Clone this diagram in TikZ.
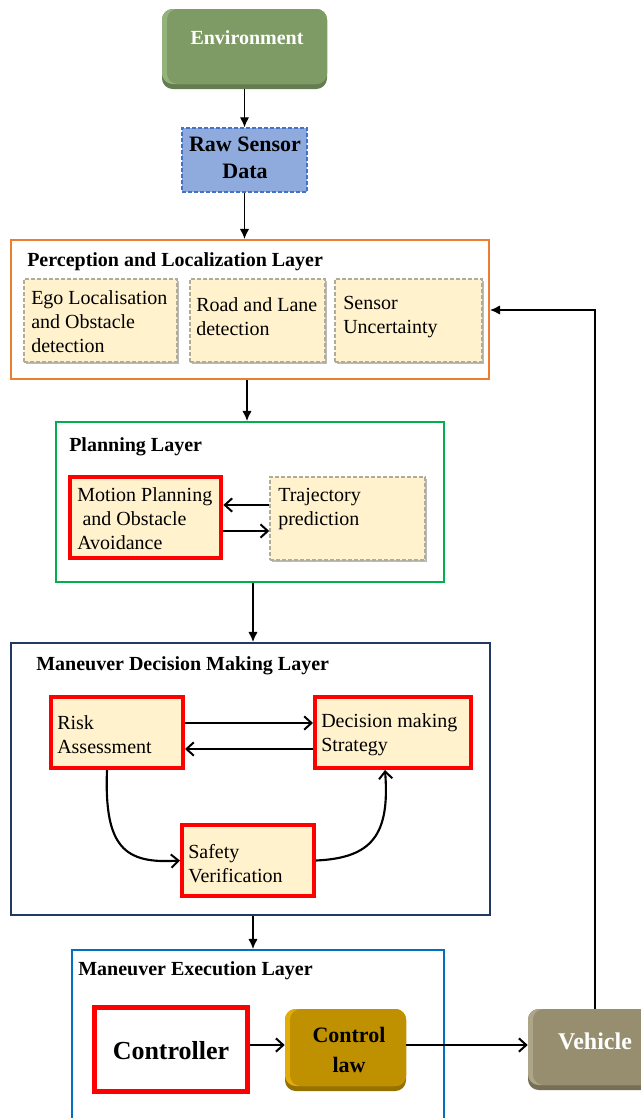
\documentclass[tikz,border=0pt]{standalone}
\usepackage{fontspec}
\setmainfont{Liberation Serif}
\usetikzlibrary{arrows.meta,fit,shadows,calc}
\definecolor{envM}{RGB}{126,155,101}
\definecolor{envL}{RGB}{150,178,124}
\definecolor{envD}{RGB}{100,125,80}
\definecolor{vehM}{RGB}{150,142,110}
\definecolor{vehL}{RGB}{172,165,135}
\definecolor{vehD}{RGB}{118,111,85}
\definecolor{clM}{RGB}{191,144,0}
\definecolor{clL}{RGB}{226,172,10}
\definecolor{clD}{RGB}{150,113,0}
\definecolor{rawF}{RGB}{143,170,220}
\definecolor{rawB}{RGB}{68,114,196}
\definecolor{cream}{RGB}{255,242,204}
\definecolor{dgray}{RGB}{176,172,152}
\definecolor{orangeL}{RGB}{237,125,49}
\definecolor{greenL}{RGB}{0,176,80}
\definecolor{navyL}{RGB}{32,56,100}
\definecolor{blueL}{RGB}{0,112,192}
\newcommand\fsz{\fontsize{15}{18}\selectfont}
\begin{document}
\begin{tikzpicture}[x=0.75pt,y=-0.75pt,
  layer/.style={draw, line width=1.6pt, inner sep=0pt},
  ybox/.style={fill=cream, draw=dgray, dash pattern=on 3pt off 1.5pt, line width=1.1pt, inner sep=0pt,
    drop shadow={shadow xshift=1.5pt, shadow yshift=-1.5pt, fill=black!45, opacity=.6}},
  rbox/.style={fill=cream, draw=red, line width=3pt, inner sep=0pt,
    drop shadow={shadow xshift=1.5pt, shadow yshift=-1.5pt, fill=black!45, opacity=.5}},
  txt/.style={font=\fsz, align=left, inner sep=0pt, anchor=west},
  ttl/.style={font=\fsz\bfseries, inner sep=0pt, anchor=west},
  arr/.style={-{Latex[length=7.5pt,width=7pt]}, line width=0.9pt},
  barb/.style={-{Straight Barb[length=5.5pt,width=10pt,line width=1.5pt]}, line width=1.6pt}]
\clip (0,0) rectangle (641,1118);
\fill[white] (0,0) rectangle (641,1118);

% Environment (bevel)
\node[fit={(162,9)(327,89)}, inner sep=0pt, rounded corners=8pt, fill=envD] (env) {};
\fill[envL, rounded corners=8pt] (162,9) rectangle (327,84);
\fill[envM, rounded corners=8pt] (167,9) rectangle (327,84);
\node[font=\fsz\bfseries, text=white, inner sep=0pt] (tenv) at (247,38) {Environment};

% Raw sensor data
\node[fit={(182,128)(307,192)}, inner sep=0pt, fill=rawF, draw=rawB, dash pattern=on 3pt off 1.5pt, line width=1.1pt] (raw) {};
\node[font=\fontsize{16.5}{20}\selectfont\bfseries, align=center, inner sep=0pt] (traw) at (245,158) {Raw Sensor\\Data};

% Perception layer
\node[layer, draw=orangeL, fit={(11,240)(489,379)}] (perc) {};
\node[ttl] (tperc) at (27,262) {Perception and Localization Layer};
\node[ybox, fit={(24,279)(177,362)}] (ego) {};
\node[ybox, fit={(190,279)(325,362)}] (road) {};
\node[ybox, fit={(335,279)(482,362)}] (sens) {};
\node[txt] (tego) at (31,322) {Ego Localisation\\and Obstacle\\detection};
\node[txt] (troad) at (196,317) {Road and Lane\\detection};
\node[txt] (tsens) at (343,317) {Sensor\\Uncertainty};

% Planning layer
\node[layer, draw=greenL, fit={(56,422)(444,582)}] (plan) {};
\node[ttl] (tplan) at (69,447) {Planning Layer};
\node[rbox, line width=3.5pt, fit={(70,477)(221,558)}] (mp) {};
\node[ybox, fit={(270,477)(425,560)}] (traj) {};
\node[txt] (tmp) at (77,519) {Motion Planning\\\hspace{4pt}and Obstacle\\Avoidance};
\node[txt] (ttraj) at (278,509) {Trajectory\\prediction};
\coordinate (ya) at (0,505);
\coordinate (yb) at (0,531);
\draw[barb] (traj.west |- ya) -- (mp.east |- ya);
\draw[barb] (mp.east |- yb) -- (traj.west |- yb);

% Maneuver decision making layer
\node[layer, draw=navyL, fit={(11,643)(490,915)}] (dec) {};
\node[ttl] (tdec) at (36,666) {Maneuver Decision Making Layer};
\node[rbox, fit={(51,697)(183,768)}] (risk) {};
\node[rbox, fit={(315,697)(471,768)}] (dms) {};
\node[rbox, fit={(182,825)(314,896)}] (safe) {};
\node[txt] (trisk) at (57,735) {Risk\\Assessment};
\node[txt] (tdms) at (321,735) {Decision making\\Strategy};
\node[txt] (tsafe) at (188,864) {Safety\\Verification};
\coordinate (yc) at (0,723);
\coordinate (yd) at (0,749);
\draw[barb] (risk.east |- yc) -- (dms.west |- yc);
\draw[barb] (dms.west |- yd) -- (risk.east |- yd);
\coordinate (xr) at (107,0);
\coordinate (xd) at (385,0);
\draw[barb] (risk.south -| xr) .. controls (104,848) and (125,864) .. (safe.west);
\draw[barb] (safe.east) .. controls (372,858) and (390,835) .. (dms.south -| xd);

% Maneuver execution layer
\node[layer, draw=blueL, fit={(72,950)(444,1140)}] (exec) {};
\node[ttl] (texec) at (78,971) {Maneuver Execution Layer};
\node[fit={(94.5,1007.5)(247.5,1091.5)}, inner sep=0pt, draw=red, line width=3.75pt, fill=white] (ctrl) {};
\node[font=\fontsize{19.5}{22}\selectfont\bfseries, inner sep=0pt] (tctrl) at (171,1051) {Controller};

% Control law (bevel)
\node[fit={(285,1009)(406,1091)}, inner sep=0pt, rounded corners=8pt, fill=clD] (cl) {};
\fill[clL, rounded corners=8pt] (285,1009) rectangle (406,1086);
\fill[clM, rounded corners=8pt] (290,1009) rectangle (406,1086);
\node[font=\fontsize{16.5}{22}\selectfont\bfseries, align=center, inner sep=0pt] (tcl) at (349,1050) {Control\\law};

% Vehicle (bevel)
\node[fit={(528,1009)(662,1090)}, inner sep=0pt, rounded corners=8pt, fill=vehD] (veh) {};
\fill[vehL, rounded corners=8pt] (528,1009) rectangle (662,1085);
\fill[vehM, rounded corners=8pt] (533,1009) rectangle (662,1085);
\node[font=\fontsize{18}{20}\selectfont\bfseries, text=white, inner sep=0pt] (tveh) at (595,1041) {Vehicle};

\coordinate (ye) at (0,1045);
\draw[barb, line width=1.4pt] (ctrl.east |- ye) -- (cl.west |- ye);
\draw[barb, line width=1.4pt] (cl.east |- ye) -- (veh.west |- ye);

% vertical flow arrows
\coordinate (x1) at (247,0);
\coordinate (x2) at (253,0);
\draw[arr] (env.south) -- (raw.north);
\draw[arr] (raw.south) -- (raw.south |- perc.north);
\draw[arr] (perc.south -| x1) -- (plan.north -| x1);
\draw[arr] (plan.south -| x2) -- (dec.north -| x2);
\draw[arr] (dec.south -| x2) -- (exec.north -| x2);

% feedback
\coordinate (fb) at (595,310);
\draw[arr, line width=0.8pt] (veh.north -| fb) |- (perc.east |- fb);
\end{tikzpicture}
\end{document}
